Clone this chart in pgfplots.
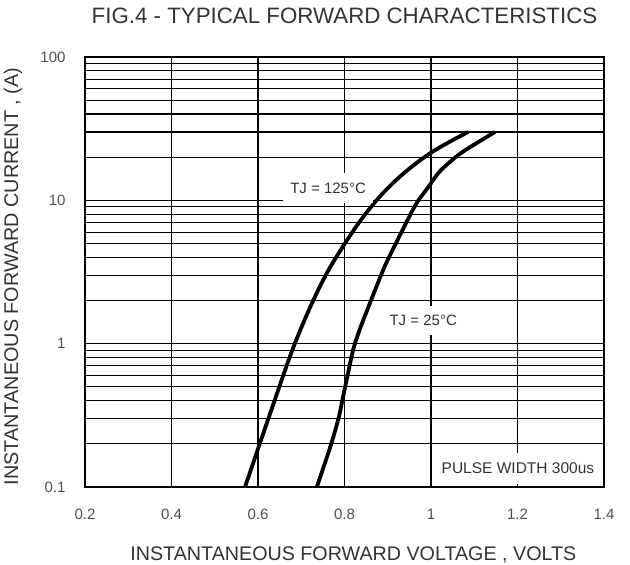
\documentclass[border=0pt]{standalone}
\usepackage{pgfplots}
\pgfplotsset{compat=1.18}
\usepackage{fontspec}
\setmainfont{Liberation Sans}
\definecolor{txt}{HTML}{333333}
\definecolor{ticktxt}{HTML}{505050}
\begin{document}
\begin{tikzpicture}
\path[use as bounding box] (-85pt,-78pt) rectangle (545pt,487pt);
\begin{axis}[
  at={(0pt,0pt)}, anchor=south west,
  scale only axis, width=519pt, height=430pt,
  xmin=0.2, xmax=1.4, ymin=0.1, ymax=100,
  ymode=log,
  xtick={0.2,0.4,0.6,0.8,1,1.2,1.4},
  xticklabels={0.2,0.4,0.6,0.8,1,1.2,1.4},
  ytick={0.1,1,10,100},
  yticklabels={0.1,1,10,100},
  minor xtick={},
  major tick length=0pt, minor tick length=0pt,
  xmajorgrids, ymajorgrids, yminorgrids,
  grid style={black, line width=1.15pt},
  major grid style={black, line width=1.15pt},
  minor grid style={black, line width=1.15pt},
  axis line style={black, line width=1.3pt},
  /pgf/number format/assume math mode=true,
  xticklabel style={font=\fontsize{15}{15}\selectfont, text=ticktxt, anchor=center, yshift=-27pt},
  yticklabel style={font=\fontsize{15}{15}\selectfont, text=ticktxt, anchor=east, xshift=-16pt},
  title={FIG.4 - TYPICAL FORWARD CHARACTERISTICS},
  title style={at={(axis description cs:0.5,1.0814)}, anchor=center, font=\fontsize{22.3}{23}\selectfont, text=txt},
  xlabel={INSTANTANEOUS FORWARD VOLTAGE , VOLTS},
  xlabel style={at={(axis description cs:0.517,-0.1581)}, anchor=center, font=\fontsize{19.7}{20}\selectfont, text=txt},
  ylabel={INSTANTANEOUS FORWARD CURRENT , (A)},
  ylabel style={at={(axis description cs:-0.1387,0.4895)}, anchor=center, font=\fontsize{19.8}{20}\selectfont, text=txt},
]
% TJ = 125 C
\addplot[black, line width=3.8pt, smooth] coordinates {
 (0.570,0.10) (0.624,0.30) (0.678,0.88) (0.720,1.78) (0.759,3.1)
 (0.800,4.95) (0.838,7.3) (0.880,10.5) (0.921,14.0) (0.960,17.6)
 (1.000,21.5) (1.044,25.7) (1.086,30)
};
% TJ = 25 C
\addplot[black, line width=3.8pt, smooth] coordinates {
 (0.736,0.10) (0.767,0.19) (0.786,0.30) (0.797,0.43) (0.809,0.64)
 (0.821,0.93) (0.835,1.25) (0.852,1.7) (0.890,3.3) (0.920,5.1)
 (0.945,7.2) (0.967,9.6) (0.994,12.4) (1.021,16.0) (1.063,20.7)
 (1.098,24.3) (1.148,30)
};
\node[fill=white, inner xsep=7pt, inner ysep=10pt, text=txt, font=\fontsize{15}{15}\selectfont] at (axis cs:0.762,12.2) {TJ = 125°C};
\node[fill=white, inner xsep=7pt, inner ysep=9pt, text=txt, font=\fontsize{15}{15}\selectfont] at (axis cs:0.982,1.445) {TJ = 25°C};
\node[fill=white, inner xsep=6pt, inner ysep=10pt, text=txt, font=\fontsize{15.5}{16}\selectfont] at (axis cs:1.201,0.1355) {PULSE WIDTH 300us};
\end{axis}
\end{tikzpicture}
\end{document}
